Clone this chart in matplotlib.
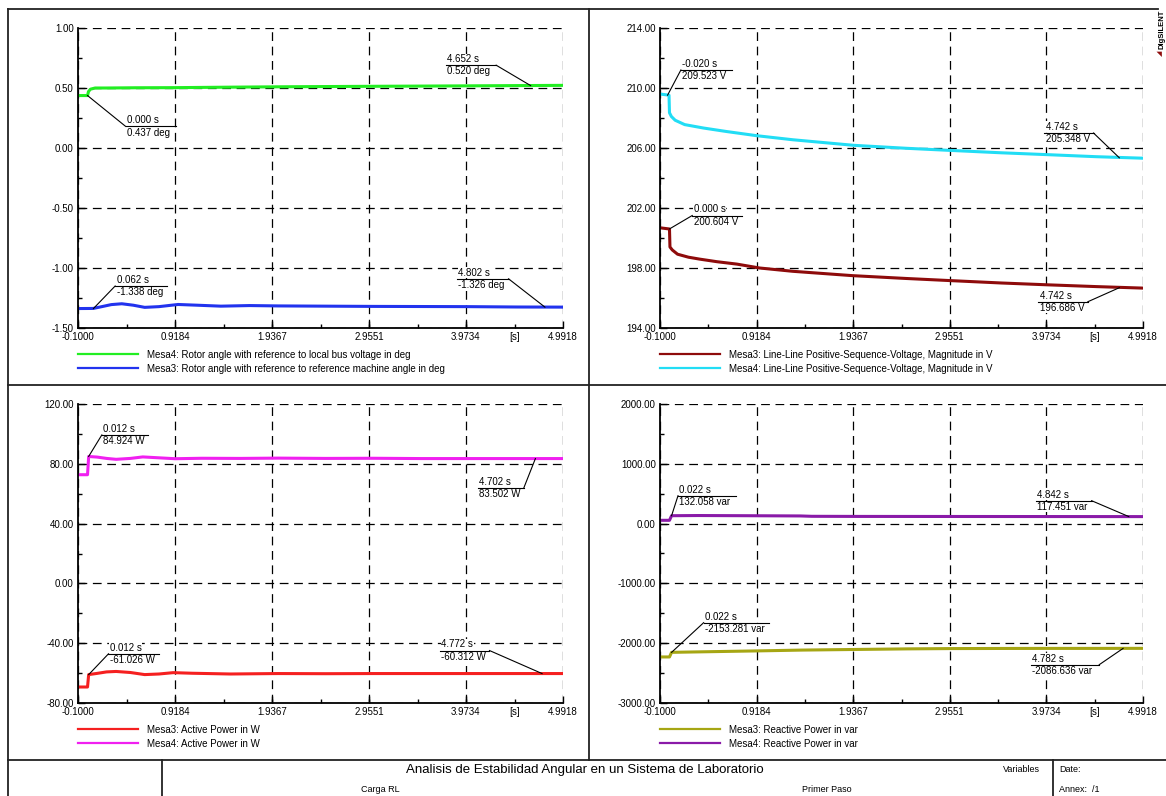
import matplotlib
matplotlib.use("Agg")
import matplotlib.pyplot as plt
from matplotlib.lines import Line2D
from matplotlib.ticker import FixedLocator, AutoMinorLocator

plt.rcParams['font.family'] = ['Liberation Sans', 'DejaVu Sans']
plt.rcParams['font.size'] = 7

W, H = 1166, 796

# x ticks shared by all panels
x_ticks = [-0.1, 0.9184, 1.9367, 2.9551, 3.9734, 4.9918]

# ---- top left: rotor angles (deg)
t_rot4 = [-0.1, 0.0, 0.01, 0.03, 0.08, 0.2, 0.5, 0.92, 1.5, 2.0, 2.94, 3.5, 4.0, 4.5, 4.99]
v_rot4 = [0.437, 0.437, 0.47, 0.49, 0.50, 0.50, 0.502, 0.503, 0.507, 0.51, 0.514, 0.516, 0.518, 0.52, 0.522]
t_rot3 = [-0.1, 0.06, 0.15, 0.25, 0.36, 0.48, 0.6, 0.75, 0.95, 1.15, 1.4, 1.7, 2.0, 2.5, 3.0, 3.5, 4.0, 4.5, 4.99]
v_rot3 = [-1.338, -1.337, -1.322, -1.305, -1.298, -1.310, -1.328, -1.322, -1.304, -1.310, -1.318, -1.313,
          -1.316, -1.318, -1.320, -1.321, -1.322, -1.325, -1.326]

# ---- top right: line-line voltage (V)
t_u3 = [-0.1, 0.0, 0.005, 0.03, 0.085, 0.2, 0.32, 0.5, 0.71, 0.95, 1.3, 1.93, 2.5, 2.96, 3.5, 3.98, 4.5, 4.99]
v_u3 = [200.68, 200.6, 199.4, 199.2, 198.92, 198.72, 198.59, 198.42, 198.26, 198.0, 197.78, 197.49,
        197.3, 197.16, 197.0, 196.88, 196.76, 196.66]
t_u4 = [-0.1, -0.005, 0.0, 0.02, 0.06, 0.16, 0.36, 0.6, 0.92, 1.3, 1.94, 2.5, 2.96, 3.5, 3.97, 4.5, 4.99]
v_u4 = [209.6, 209.52, 208.35, 208.1, 207.85, 207.56, 207.33, 207.1, 206.82, 206.55, 206.18, 205.98,
        205.84, 205.68, 205.56, 205.42, 205.32]

# ---- bottom left: active power (W)
t_p3 = [-0.1, 0.0, 0.012, 0.1, 0.2, 0.3, 0.45, 0.6, 0.75, 0.9, 1.1, 1.5, 2.0, 2.5, 3.0, 3.5, 4.0, 4.5, 4.99]
v_p3 = [-69.3, -69.3, -61.0, -60.2, -59.2, -58.9, -59.6, -61.0, -60.6, -59.7, -60.1, -60.6, -60.3,
        -60.4, -60.3, -60.3, -60.3, -60.3, -60.3]
t_p4 = [-0.1, 0.0, 0.012, 0.1, 0.2, 0.3, 0.45, 0.58, 0.75, 0.92, 1.2, 1.6, 2.0, 2.5, 3.0, 3.5, 4.0, 4.5, 4.99]
v_p4 = [72.7, 72.7, 84.9, 84.5, 83.6, 83.0, 83.6, 84.6, 84.0, 83.4, 83.7, 83.6, 83.8, 83.6, 83.7,
        83.5, 83.5, 83.5, 83.5]

# ---- bottom right: reactive power (var)
t_q3 = [-0.1, 0.0, 0.022, 0.2, 0.5, 0.95, 1.4, 1.94, 2.5, 2.96, 3.5, 3.97, 4.5, 4.99]
v_q3 = [-2230, -2230, -2153, -2148, -2140, -2128, -2115, -2105, -2095, -2090, -2088, -2087, -2087, -2086]
t_q4 = [-0.1, 0.0, 0.022, 0.3, 0.8, 1.38, 1.5, 2.0, 3.0, 4.0, 4.99]
v_q4 = [55, 55, 132, 135, 132, 128, 122, 120, 119, 118, 117]

# labels (t, v, time text, value text, underline x0, x1, y, leader side)
ann_tl = [(0.0, 0.437, "0.000 s", "0.437 deg", 0.40, 0.93, 0.18, 'l'),
          (4.652, 0.520, "4.652 s", "0.520 deg", 3.76, 4.29, 0.69, 'r'),
          (0.062, -1.338, "0.062 s", "-1.338 deg", 0.29, 0.83, -1.15, 'l'),
          (4.802, -1.326, "4.802 s", "-1.326 deg", 3.88, 4.42, -1.09, 'r')]
ann_tr = [(-0.020, 209.523, "-0.020 s", "209.523 V", 0.12, 0.66, 211.2, 'l'),
          (4.742, 205.348, "4.742 s", "205.348 V", 3.95, 4.47, 207.0, 'r'),
          (0.000, 200.604, "0.000 s", "200.604 V", 0.24, 0.76, 201.5, 'l'),
          (4.742, 196.686, "4.742 s", "196.686 V", 3.89, 4.41, 195.75, 'r')]
ann_bl = [(0.012, 84.924, "0.012 s", "84.924 W", 0.15, 0.64, 99.3, 'l'),
          (4.702, 83.502, "4.702 s", "83.502 W", 4.10, 4.58, 63.8, 'r'),
          (0.012, -61.026, "0.012 s", "-61.026 W", 0.22, 0.75, -47.1, 'l'),
          (4.772, -60.312, "4.772 s", "-60.312 W", 3.70, 4.22, -44.9, 'r')]
ann_br = [(0.022, 132.058, "0.022 s", "132.058 var", 0.09, 0.70, 467, 'l'),
          (4.842, 117.451, "4.842 s", "117.451 var", 3.86, 4.45, 383, 'r'),
          (0.022, -2153.281, "0.022 s", "-2153.281 var", 0.36, 1.05, -1657, 'l'),
          (4.782, -2086.636, "4.782 s", "-2086.636 var", 3.81, 4.53, -2360, 'r')]

fig = plt.figure(figsize=(W / 100, H / 100), dpi=100)


def px_axes(x0, y0, x1, y1):
    return fig.add_axes([x0 / W, 1 - y1 / H, (x1 - x0) / W, (y1 - y0) / H])


def setup(ax, ylim, yticks):
    ax.set_xlim(x_ticks[0], x_ticks[-1])
    ax.set_ylim(*ylim)
    ax.xaxis.set_major_locator(FixedLocator(x_ticks))
    ax.set_xticklabels(["%.4f" % x for x in x_ticks])
    ax.yaxis.set_major_locator(FixedLocator(yticks))
    ax.set_yticklabels(["%.2f" % y for y in yticks])
    ax.xaxis.set_minor_locator(AutoMinorLocator(2))
    ax.yaxis.set_minor_locator(AutoMinorLocator(2))
    ax.tick_params(which='major', direction='in', length=5, width=1.0, labelsize=7, pad=3)
    ax.tick_params(which='minor', direction='in', length=3, width=1.0)
    for s in ['top', 'right']:
        ax.spines[s].set_visible(False)
    for s in ['left', 'bottom']:
        ax.spines[s].set_linewidth(1.3)
    ax.grid(True, which='major', color='black', linestyle=(0, (7, 4.5)), linewidth=0.9)
    ax.set_axisbelow(True)
    ax.text(4.48, -0.014, "[s]", transform=ax.get_xaxis_transform(), ha='center', va='top', fontsize=7)


def annotate(ax, items):
    box = dict(facecolor='white', edgecolor='none', pad=0.4)
    for t, v, ts, vs, x0, x1, y, side in items:
        ax.plot([x0, x1], [y, y], color='black', lw=0.8, clip_on=False, zorder=7)
        xe = x0 if side == 'l' else x1
        ax.plot([t, xe], [v, y], color='black', lw=0.8, clip_on=False, zorder=7)
        ax.annotate(ts, xy=(x0, y), xytext=(1, 0.8), textcoords='offset points',
                    ha='left', va='bottom', fontsize=7, zorder=6, bbox=box)
        ax.annotate(vs, xy=(x0, y), xytext=(1, -0.8), textcoords='offset points',
                    ha='left', va='top', fontsize=7, zorder=6, bbox=box)


def legend(ax):
    leg = ax.legend(loc='upper left', bbox_to_anchor=(0.0, -0.072), frameon=False, fontsize=7,
                    handlelength=6.2, handletextpad=0.9, labelspacing=0.42, borderpad=0, borderaxespad=0)
    for h in leg.get_lines():
        h.set_linewidth(1.6)


LW = 2.2

# top left
ax1 = px_axes(78, 28, 563, 328)
setup(ax1, (-1.5, 1.0), [-1.5, -1.0, -0.5, 0.0, 0.5, 1.0])
ax1.plot(t_rot4, v_rot4, color='#22ee22', lw=LW, label="Mesa4: Rotor angle with reference to local bus voltage in deg")
ax1.plot(t_rot3, v_rot3, color='#2233ee', lw=LW, label="Mesa3: Rotor angle with reference to reference machine angle in deg")
annotate(ax1, ann_tl)
legend(ax1)

# top right
ax2 = px_axes(660, 28, 1143, 328)
setup(ax2, (194, 214), [194, 198, 202, 206, 210, 214])
ax2.plot(t_u3, v_u3, color='#8e0b0b', lw=LW, label="Mesa3: Line-Line Positive-Sequence-Voltage, Magnitude in V")
ax2.plot(t_u4, v_u4, color='#22ddf5', lw=LW, label="Mesa4: Line-Line Positive-Sequence-Voltage, Magnitude in V")
annotate(ax2, ann_tr)
legend(ax2)

# bottom left
ax3 = px_axes(78, 404, 563, 703)
setup(ax3, (-80, 120), [-80, -40, 0, 40, 80, 120])
ax3.plot(t_p3, v_p3, color='#f52020', lw=LW, label="Mesa3: Active Power in W")
ax3.plot(t_p4, v_p4, color='#f020f0', lw=LW, label="Mesa4: Active Power in W")
annotate(ax3, ann_bl)
legend(ax3)

# bottom right
ax4 = px_axes(660, 404, 1143, 703)
setup(ax4, (-3000, 2000), [-3000, -2000, -1000, 0, 1000, 2000])
ax4.plot(t_q3, v_q3, color='#a6a614', lw=LW, label="Mesa3: Reactive Power in var")
ax4.plot(t_q4, v_q4, color='#8a1aa8', lw=LW, label="Mesa4: Reactive Power in var")
annotate(ax4, ann_br)
legend(ax4)


# page frame and title block
def fline(x0, y0, x1, y1, lw=1.3):
    fig.add_artist(Line2D([x0 / W, x1 / W], [1 - y0 / H, 1 - y1 / H], color='#222222', lw=lw))


fline(8, 9, 1158, 9)
fline(8, 9, 8, 796)
fline(589, 9, 589, 760)
fline(8, 385, 1166, 385)
fline(8, 760, 1166, 760)
fline(162, 760, 162, 796)
fline(1053, 760, 1053, 796)

fig.text(585 / W, 1 - 770 / H, "Analisis de Estabilidad Angular en un Sistema de Laboratorio",
         ha='center', va='center', fontsize=9.5)
fig.text(380 / W, 1 - 789 / H, "Carga RL", ha='center', va='center', fontsize=6.5)
fig.text(827 / W, 1 - 789 / H, "Primer Paso", ha='center', va='center', fontsize=6.5)
fig.text(1021 / W, 1 - 770 / H, "Variables", ha='center', va='center', fontsize=6.5)
fig.text(1059 / W, 1 - 770 / H, "Date:", ha='left', va='center', fontsize=6.5)
fig.text(1059 / W, 1 - 789 / H, "Annex:  /1", ha='left', va='center', fontsize=6.5)
fig.text(1165 / W, 1 - 10 / H, "DIgSILENT", rotation=90, ha='right', va='top', fontsize=5.5, weight='bold')
fig.text(1160 / W, 1 - 53 / H, "\u25e2", ha='center', va='center', fontsize=5, color='#8e0b0b',
         family='DejaVu Sans', rotation=90)

fig.savefig("out.png", dpi=100)
